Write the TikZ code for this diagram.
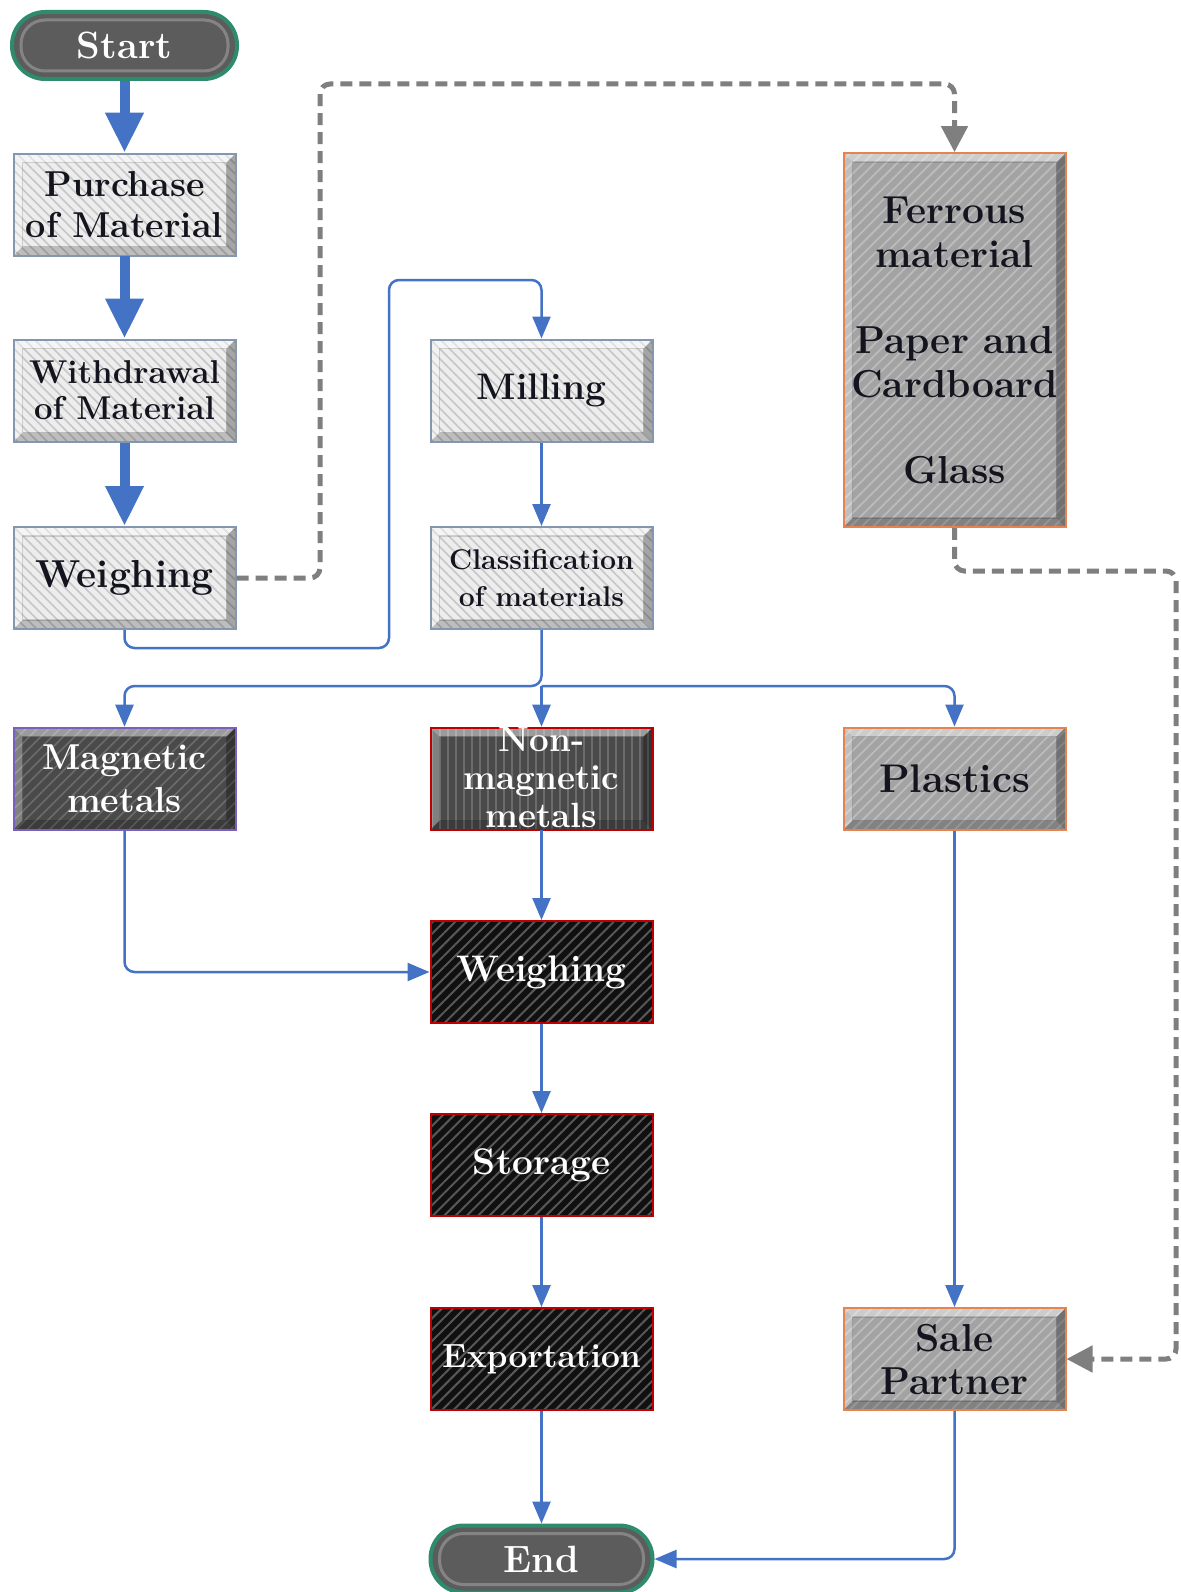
\documentclass[tikz,border=0pt]{standalone}
\usepackage{fontspec}
\usetikzlibrary{arrows.meta,patterns.meta}
\definecolor{flowblue}{HTML}{4472C4}
\definecolor{dashgray}{HTML}{7F7F7F}
\definecolor{lightfill}{HTML}{EDEDED}
\definecolor{lighthatch}{HTML}{C6C6C6}
\definecolor{lightborder}{HTML}{8496B0}
\definecolor{darkfill}{HTML}{4A4A4A}
\definecolor{darkhatch}{HTML}{6C6C6C}
\definecolor{magborder}{HTML}{7B5FC0}
\definecolor{redborder}{HTML}{C00000}
\definecolor{blackfill}{HTML}{101010}
\definecolor{blackhatch}{HTML}{585858}
\definecolor{grayfill}{HTML}{A3A3A3}
\definecolor{grayhatch}{HTML}{BCBCBC}
\definecolor{orangeborder}{HTML}{E8834E}
\definecolor{pillfill}{HTML}{5C5C5C}
\definecolor{pillborder}{HTML}{2E8B6E}
\definecolor{inkdark}{HTML}{14141E}
\newcommand{\mybevel}[1]{%
 \fill[white,opacity=0.45] (path picture bounding box.north west) -- (path picture bounding box.north east) -- ([shift={(-#1,-#1)}]path picture bounding box.north east) -- ([shift={(#1,-#1)}]path picture bounding box.north west) -- cycle;
 \fill[white,opacity=0.3] (path picture bounding box.north west) -- (path picture bounding box.south west) -- ([shift={(#1,#1)}]path picture bounding box.south west) -- ([shift={(#1,-#1)}]path picture bounding box.north west) -- cycle;
 \fill[black,opacity=0.3] (path picture bounding box.north east) -- (path picture bounding box.south east) -- ([shift={(-#1,#1)}]path picture bounding box.south east) -- ([shift={(-#1,-#1)}]path picture bounding box.north east) -- cycle;
 \fill[black,opacity=0.2] (path picture bounding box.south west) -- (path picture bounding box.south east) -- ([shift={(-#1,#1)}]path picture bounding box.south east) -- ([shift={(#1,#1)}]path picture bounding box.south west) -- cycle;
 \draw[black,opacity=0.15,line width=1.2pt] ([shift={(#1,-#1)}]path picture bounding box.north west) rectangle ([shift={(-#1,#1)}]path picture bounding box.south east);
}
\newcommand{\fs}[2]{\fontsize{#1pt}{#2pt}\selectfont\bfseries}
\tikzset{
 box/.style={rectangle, minimum width=222pt, minimum height=102pt, inner sep=0pt, align=center, line width=2pt},
 bevel/.style={path picture={\mybevel{#1}}},
 lightbox/.style={box, draw=lightborder, preaction={fill=lightfill}, pattern={Lines[angle=-45,distance=7pt,line width=1.6pt]}, pattern color=lighthatch, text=inkdark, bevel=9pt},
 darkbox/.style={box, preaction={fill=darkfill}, pattern={Lines[angle=45,distance=8pt,line width=1.6pt]}, pattern color=darkhatch, text=white, bevel=9pt},
 blackbox/.style={box, draw=redborder, preaction={fill=blackfill}, pattern={Lines[angle=45,distance=8pt,line width=2pt]}, pattern color=blackhatch, text=white},
 graybox/.style={box, draw=orangeborder, preaction={fill=grayfill}, pattern={Lines[angle=45,distance=8pt,line width=1.8pt]}, pattern color=grayhatch, text=inkdark, bevel=9pt},
 pill/.style={rectangle, rounded corners=33pt, minimum height=67pt, inner sep=0pt, draw=pillborder, line width=4pt, fill=pillfill, text=white,
   path picture={\draw[white,opacity=0.25,line width=3pt,rounded corners=24pt] ([shift={(9pt,-8pt)}]path picture bounding box.north west) rectangle ([shift={(-9pt,8pt)}]path picture bounding box.south east);}},
 bigarrow/.style={draw=flowblue, line width=10pt, -{Triangle[length=40pt,width=36pt]}},
 flow/.style={draw=flowblue, line width=2.5pt, rounded corners=10pt, -{Triangle[length=22pt,width=18pt]}},
 dasharrow/.style={draw=dashgray, line width=5pt, dash pattern=on 12pt off 7pt, rounded corners=10pt, -{Triangle[length=26pt,width=26pt]}},
}
\begin{document}
\begin{tikzpicture}[x=1pt,y=-1pt]
\useasboundingbox[fill=white] (0,0) rectangle (1180,1592);

\node[pill, minimum width=225pt, font=\fs{38}{42}] (start) at (124.5,45.5) {Start};
\node[lightbox, font=\fs{36}{40.6}] (purchase) at (124.5,204.5) {Purchase\\of Material};
\node[lightbox, font=\fs{33}{36}] (withdraw) at (124.5,390.5) {Withdrawal\\of Material};
\node[lightbox, font=\fs{39}{42}] (weigh1) at (124.5,578) {Weighing};
\node[lightbox, font=\fs{37}{42}] (milling) at (541.5,390.5) {Milling};
\node[lightbox, font=\fs{28.5}{36.5}] (classif) at (541.5,578) {Classification\\of materials};
\node[graybox, minimum height=374pt, font=\fs{39}{44}] (ferrous) at (954.5,340) {Ferrous\\material\\[42pt]Paper and\\Cardboard\\[42pt]Glass};
\node[darkbox, draw=magborder, font=\fs{36}{43}] (magnetic) at (124.5,778.5) {Magnetic\\metals};
\node[darkbox, draw=redborder, pattern={Lines[angle=90,distance=8pt,line width=1.6pt]}, font=\fs{35}{38}] (nonmag) at (541.5,778.5)
  {\smash{\raisebox{-10pt}{\begin{tabular}{@{}c@{}}Non-\\magnetic\\metals\end{tabular}}}};
\node[graybox, font=\fs{40}{44}] (plastics) at (954.5,778.5) {Plastics};
\node[blackbox, font=\fs{37}{42}] (weigh2) at (541.5,972) {Weighing};
\node[blackbox, font=\fs{37}{42}] (storage) at (541.5,1165) {Storage};
\node[blackbox, font=\fs{33.5}{40}] (export) at (541.5,1359) {Exportation};
\node[graybox, font=\fs{39}{43}] (sale) at (954.5,1359) {Sale\\Partner};
\node[pill, minimum width=222pt, font=\fs{38}{42}] (end) at (541.5,1559) {End};

\coordinate (split) at (541.5,686);

\draw[bigarrow] (start) -- (purchase);
\draw[bigarrow] (purchase) -- (withdraw);
\draw[bigarrow] (withdraw) -- (weigh1);

\draw[dasharrow] (weigh1.east) -| (320,84) -| (ferrous.north);
\draw[flow] (weigh1.south) -- ++(0,18) -| (389,280) -| (milling.north);
\draw[flow] (milling) -- (classif);
\draw[flow] (classif.south) -- (split) -| (magnetic.north);
\draw[flow] (split) -- (nonmag.north);
\draw[flow] (split) -| (plastics.north);
\draw[flow] (magnetic.south) |- (weigh2.west);
\draw[flow] (nonmag) -- (weigh2);
\draw[flow] (weigh2) -- (storage);
\draw[flow] (storage) -- (export);
\draw[flow] (export) -- (end);
\draw[flow] (plastics) -- (sale);
\draw[dasharrow] (ferrous.south) |- (1176,571) |- (sale.east);
\draw[flow] (sale.south) |- (end.east);
\end{tikzpicture}
\end{document}
